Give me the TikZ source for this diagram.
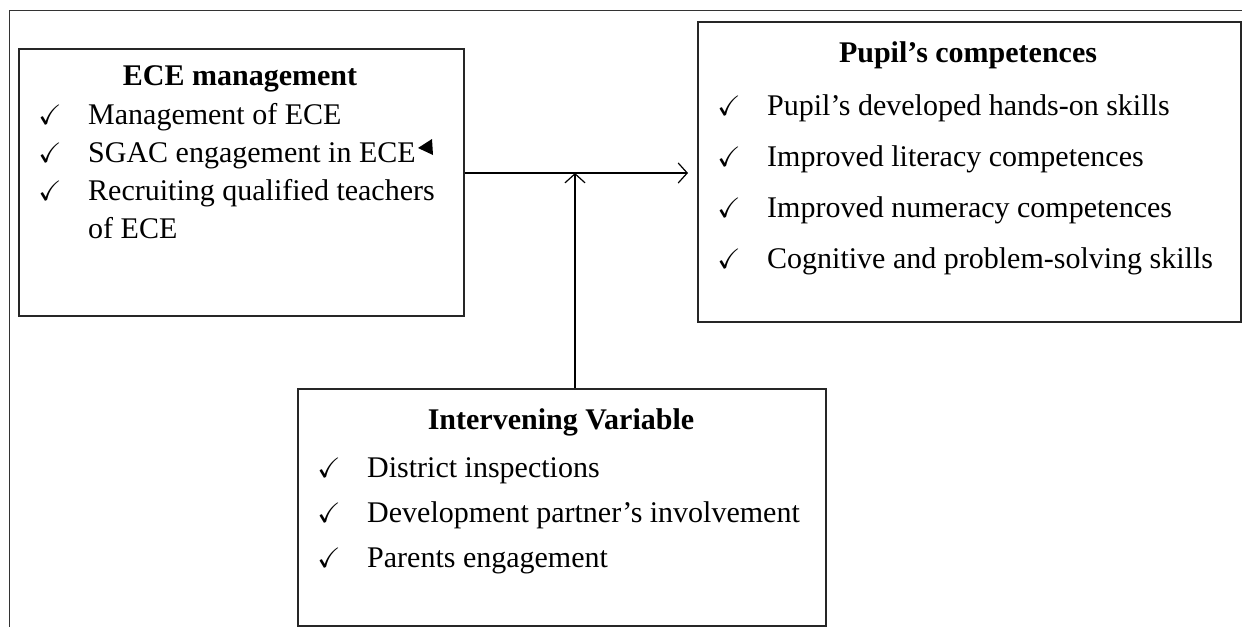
\documentclass[tikz,border=0pt]{standalone}
\usepackage{amssymb}
\usepackage{fontspec}
\setmainfont{Liberation Serif}
\usetikzlibrary{arrows.meta}
\begin{document}
\begin{tikzpicture}[x=1pt,y=-1pt,
  box/.style={draw=black!85,line width=1.5pt,inner sep=0pt,anchor=north west},
  title/.style={font=\fontsize{30}{36}\selectfont\bfseries,anchor=base},
  item/.style={font=\fontsize{30}{36}\selectfont,anchor=base west,inner sep=0pt},
  tick/.style={font=\fontsize{28}{34}\selectfont,anchor=base,inner sep=0pt},
  link/.style={line width=1.2pt,-{Straight Barb[length=9pt,width=20pt,line width=1.2pt]}}]
\useasboundingbox (0,0) rectangle (1242,627);
% outer frame (top and left edges)
\draw[line width=1pt,black!80] (1242,10) -- (9,10) -- (9,627);

% boxes
\node[box,minimum width=445pt,minimum height=267pt] (ece) at (18,48) {};
\node[box,minimum width=543pt,minimum height=300pt] (pupil) at (697,21) {};
\node[box,minimum width=528pt,minimum height=237pt] (inter) at (297,388) {};

% ECE management
\node[title] (t1) at (240,85) {ECE management};
\node[tick] (c11) at (50,124) {$\checkmark$};
\node[item] (i11) at (88,124) {Management of ECE};
\node[tick] (c12) at (50,162) {$\checkmark$};
\node[item] (i12) at (88,162) {SGAC engagement in ECE};
\node[tick] (c13) at (50,200) {$\checkmark$};
\node[item] (i13) at (88,200) {Recruiting qualified teachers};
\node[item] (i14) at (88,238) {of ECE};
\fill (432,139) -- (433,155) -- (418,148) -- cycle;

% Pupil's competences
\node[title] (t2) at (968,62) {Pupil’s competences};
\node[tick] (c21) at (729,115) {$\checkmark$};
\node[item] (i21) at (767,115) {Pupil’s developed hands-on skills};
\node[tick] (c22) at (729,166) {$\checkmark$};
\node[item] (i22) at (767,166) {Improved literacy competences};
\node[tick] (c23) at (729,217) {$\checkmark$};
\node[item] (i23) at (767,217) {Improved numeracy competences};
\node[tick] (c24) at (729,268) {$\checkmark$};
\node[item] (i24) at (767,268) {Cognitive and problem-solving skills};

% Intervening Variable
\node[title] (t3) at (561,429) {Intervening Variable};
\node[tick] (c31) at (329,477) {$\checkmark$};
\node[item] (i31) at (367,477) {District inspections};
\node[tick] (c32) at (329,522) {$\checkmark$};
\node[item] (i32) at (367,522) {Development partner’s involvement};
\node[tick] (c33) at (329,567) {$\checkmark$};
\node[item] (i33) at (367,567) {Parents engagement};

% connectors
\coordinate (j) at (575,173);
\draw[link,shorten >=9pt] (ece.east |- j) -- (pupil.west |- j);
\draw[link] (j |- inter.north) -- (j);
\end{tikzpicture}
\end{document}
